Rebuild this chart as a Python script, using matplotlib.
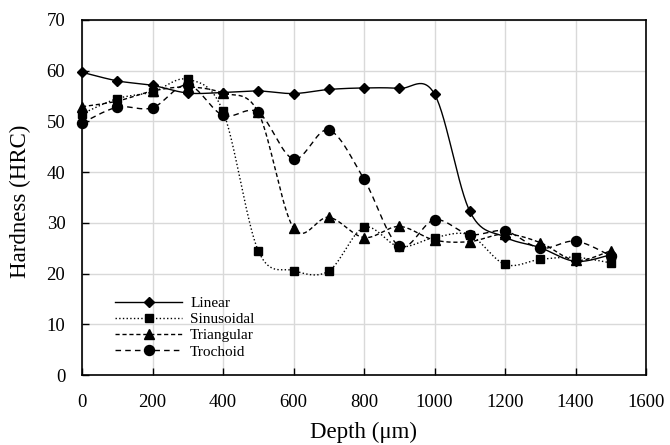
import numpy as np
import matplotlib
matplotlib.use("Agg")
import matplotlib.pyplot as plt

depth = [0, 100, 200, 300, 400, 500, 600, 700, 800, 900, 1000, 1100, 1200, 1300, 1400, 1500]
linear = [59.7, 58.0, 57.1, 55.6, 55.7, 56.0, 55.5, 56.3, 56.6, 56.5, 55.4, 32.3, 27.2, 25.1, 22.4, 23.7]
sinusoidal = [51.5, 54.5, 55.8, 58.3, 52.0, 24.5, 20.6, 20.5, 29.1, 25.3, 27.1, 27.6, 21.8, 22.8, 23.2, 22.1]
triangular = [52.9, 54.0, 56.0, 56.8, 55.6, 51.8, 29.0, 31.1, 27.1, 29.3, 26.6, 26.3, 27.8, 26.1, 22.6, 24.5]
trochoid = [49.7, 52.8, 52.7, 57.2, 51.2, 51.8, 42.6, 48.3, 38.6, 25.4, 30.6, 27.7, 28.4, 25.0, 26.4, 23.5]

labels = ["Linear", "Sinusoidal", "Triangular", "Trochoid"]
series = [linear, sinusoidal, triangular, trochoid]
styles = [("-", "D", 5.5), (":", "s", 5.3), ((0, (3, 2)), "^", 6.8), ((0, (4, 3)), "o", 7.2)]

plt.rcParams['font.family'] = ['Liberation Serif', 'DejaVu Serif']

XMAX, YMAX = 1600.0, 70.0


def smooth(x, y, n=30):
    # Catmull-Rom (Excel-like smoothing) in normalized display space
    sx, sy = 564.0 / XMAX, 355.0 / YMAX
    P = np.column_stack([np.asarray(x) * sx, np.asarray(y) * sy])
    P = np.vstack([P[0], P, P[-1]])
    out = []
    for i in range(1, len(P) - 2):
        p0, p1, p2, p3 = P[i - 1], P[i], P[i + 1], P[i + 2]
        c1 = p1 + (p2 - p0) / 6.0
        c2 = p2 - (p3 - p1) / 6.0
        t = np.linspace(0, 1, n, endpoint=(i == len(P) - 3))[:, None]
        b = ((1 - t) ** 3) * p1 + 3 * ((1 - t) ** 2) * t * c1 + 3 * (1 - t) * t ** 2 * c2 + t ** 3 * p2
        out.append(b)
    B = np.vstack(out)
    return B[:, 0] / sx, B[:, 1] / sy


fig = plt.figure(figsize=(6.7, 4.45), dpi=100)
ax = fig.add_axes([82 / 670, 1 - 375 / 445, 564 / 670, 355 / 445])

for lab, vals, (ls, mk, ms) in zip(labels, series, styles):
    xs, ys = smooth(depth, vals)
    ax.plot(xs, ys, color="black", linestyle=ls, linewidth=1.0, zorder=3)
    ax.plot(depth, vals, linestyle="none", marker=mk, markersize=ms, color="black", zorder=4, clip_on=False)
    ax.plot([], [], color="black", linestyle=ls, linewidth=1.0, marker=mk, markersize=ms, label=lab)

ax.set_xlim(0, XMAX)
ax.set_ylim(0, YMAX)
ax.set_xticks(np.arange(0, 1601, 200))
ax.set_yticks(np.arange(0, 71, 10))
ax.grid(True, color="#d9d9d9", linewidth=1.0, zorder=0)
ax.set_axisbelow(True)
ax.tick_params(direction="in", length=5, width=1.0, labelsize=13.5, top=False, right=False)
ax.tick_params(axis="x", pad=14)
ax.tick_params(axis="y", pad=12)
for s in ax.spines.values():
    s.set_linewidth(1.2)
    s.set_color("black")

ax.set_xlabel("Depth (\u03bcm)", fontsize=16.5)
ax.set_ylabel("Hardness (HRC)", fontsize=16.5)
ax.xaxis.set_label_coords(364 / 670, 1 - 422 / 445, transform=fig.transFigure)
ax.yaxis.set_label_coords(31 / 670, 1 - 201 / 445, transform=fig.transFigure)

leg = ax.legend(loc="lower left", bbox_to_anchor=(0.04, 0.016), frameon=False, fontsize=11,
                handlelength=4.4, handletextpad=0.5, labelspacing=0.16, borderaxespad=0.3)

fig.savefig("out.png", dpi=100)
